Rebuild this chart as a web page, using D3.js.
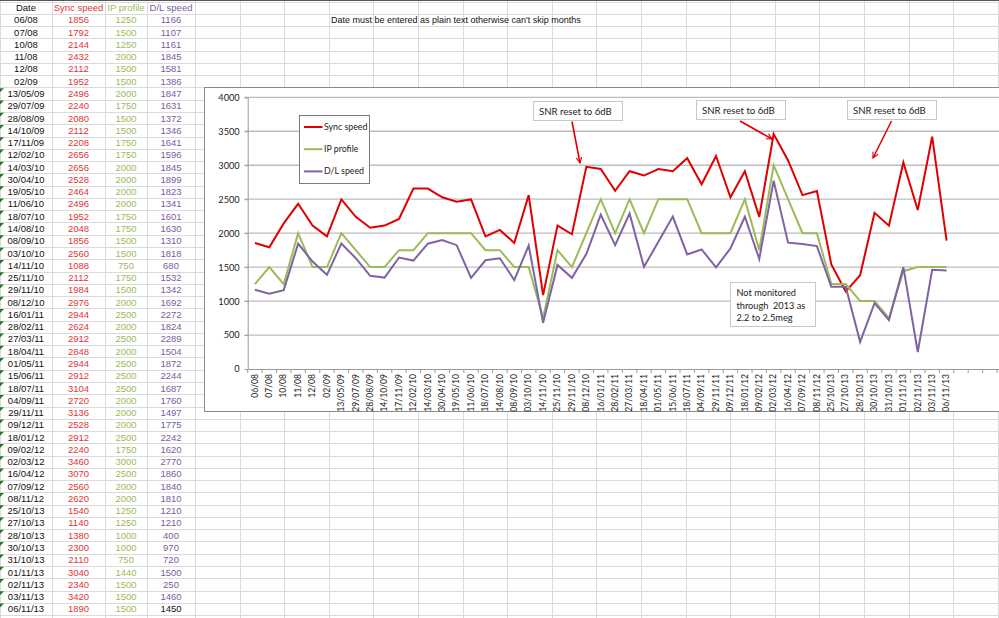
<!DOCTYPE html>
<html>
<head>
<meta charset="utf-8">
<script src="https://cdn.jsdelivr.net/npm/d3@7"></script>
<style>
body { margin: 0; background: #fff; overflow: hidden; }
svg { display: block; }
</style>
</head>
<body>
<svg id="sheet" width="999" height="618"></svg>
<script>
// data as typed in the sheet (dates kept as plain text)
var dates = ["06/08","07/08","10/08","11/08","12/08","02/09","13/05/09","29/07/09","28/08/09","14/10/09",
  "17/11/09","12/02/10","14/03/10","30/04/10","19/05/10","11/06/10","18/07/10","14/08/10","08/09/10","03/10/10",
  "14/11/10","25/11/10","29/11/10","08/12/10","16/01/11","28/02/11","27/03/11","18/04/11","01/05/11","15/06/11",
  "18/07/11","04/09/11","29/11/11","09/12/11","18/01/12","09/02/12","02/03/12","16/04/12","07/09/12","08/11/12",
  "25/10/13","27/10/13","28/10/13","30/10/13","31/10/13","01/11/13","02/11/13","03/11/13","06/11/13"];
var syncSpeed = [1856,1792,2144,2432,2112,1952,2496,2240,2080,2112,2208,2656,
  2656,2528,2464,2496,1952,2048,1856,2560,1088,2112,1984,2976,
  2944,2624,2912,2848,2944,2912,3104,2720,3136,2528,2912,2240,3460,
  3070,2560,2620,1540,1140,1380,2300,2110,3040,2340,3420,1890];
var ipProfile = [1250,1500,1250,2000,1500,1500,2000,1750,1500,1500,1750,1750,
  2000,2000,2000,2000,1750,1750,1500,1500,750,1750,1500,2000,
  2500,2000,2500,2000,2500,2500,2500,2000,2000,2000,2500,1750,3000,
  2500,2000,2000,1250,1250,1000,1000,750,1440,1500,1500,1500];
var dlSpeed = [1166,1107,1161,1845,1581,1386,1847,1631,1372,1346,1641,1596,
  1845,1899,1823,1341,1601,1630,1310,1818,680,1532,1342,1692,
  2272,1824,2289,1504,1872,2244,1687,1760,1497,1775,2242,1620,2770,
  1860,1840,1810,1210,1210,400,970,720,1500,250,1460,1450];
var headers = ["Date","Sync speed","IP profile","D/L speed"];
var seriesNames = ["Sync speed","IP profile","D/L speed"];
var yTicks = [0,500,1000,1500,2000,2500,3000,3500,4000];
var sheetNote = "Date must be entered as plain text otherwise can't skip months";
var snrNote = "SNR reset to 6dB";
var gapNote = ["Not monitored","through  2013 as","2.2 to 2.5meg"];

var lineColours = ["#e00000","#9bbb59","#7f63a3"];
var textColours = ["#111","#e03636","#9bbb59","#7b5c9f"];

var svg = d3.select("#sheet");

// ---- spreadsheet grid ----
var colEdges = [0,52,105,147,195];
for (var c = 1; c <= 18; c++) colEdges.push(195 + c*44.6);
var rowH = 12.27, rowTop = 1.6, nRows = 51;
var row = d3.scaleLinear().domain([0,1]).range([rowTop, rowTop+rowH]);

var grid = svg.append("g");
grid.selectAll("line.h").data(d3.range(nRows+1)).join("line")
  .attr("class","h")
  .attr("x1",0).attr("x2",999)
  .attr("y1",function(d){return Math.round(row(d))+0.5;})
  .attr("y2",function(d){return Math.round(row(d))+0.5;})
  .attr("stroke","#dadada");
grid.selectAll("line.v").data(colEdges).join("line")
  .attr("class","v")
  .attr("y1",0).attr("y2",618)
  .attr("x1",function(d){return Math.round(d)+0.5;})
  .attr("x2",function(d){return Math.round(d)+0.5;})
  .attr("stroke","#dadada");
svg.append("line").attr("x1",0).attr("x2",999).attr("y1",0.5).attr("y2",0.5).attr("stroke","#555");

var cellFont = "'Liberation Sans', Arial, sans-serif";
function colMid(j){ return (colEdges[j]+colEdges[j+1])/2; }

svg.append("g").selectAll("text").data(headers).join("text")
  .attr("x",function(d,j){return colMid(j);})
  .attr("y",row(0.5)+3.4)
  .attr("text-anchor","middle")
  .attr("font-family",cellFont).attr("font-size","9.5px")
  .attr("fill",function(d,j){return textColours[j];})
  .text(function(d){return d;});

var rows = dates.map(function(d,i){ return [d, syncSpeed[i], ipProfile[i], dlSpeed[i]]; });
var rowG = svg.append("g").selectAll("g").data(rows).join("g")
  .attr("transform",function(d,i){return "translate(0,"+row(i+1.5)+")";});
rowG.selectAll("text").data(function(d,i){return d.map(function(v,j){return {v:v,j:j,i:i};});}).join("text")
  .attr("x",function(d){return colMid(d.j);})
  .attr("y",3.4)
  .attr("text-anchor","middle")
  .attr("font-family",cellFont).attr("font-size","9.5px")
  .attr("fill",function(d){ return (d.i === rows.length-1 && d.j === 3) ? "#111" : textColours[d.j]; })
  .text(function(d){return d.v;});
// green "number stored as text" flags
rowG.filter(function(d,i){return i >= 6;}).append("path")
  .attr("d","M0,-5.5 L4,-5.5 L0,-1.5 Z")
  .attr("fill","#1f7a1f");

svg.append("text").attr("x",331).attr("y",row(1.5)+3.3)
  .attr("font-family",cellFont).attr("font-size","9px").attr("fill","#111")
  .text(sheetNote);

// ---- embedded chart ----
var chartFont = "Lato, 'Open Sans', sans-serif";
var chart = svg.append("g");
chart.append("rect").attr("x",204.5).attr("y",87.5).attr("width",830).attr("height",324)
  .attr("fill","#fff").attr("stroke","#8a8a8a");

var nCats = 56, x0 = 247.7, step = 14.41;
var x = d3.scaleBand().domain(d3.range(nCats)).range([x0, x0 + nCats*step]);
var y = d3.scaleLinear().domain([0,4000]).range([369,97.3]);

chart.append("g").selectAll("line").data(yTicks.filter(function(t){return t>0;})).join("line")
  .attr("x1",x0-3).attr("x2",1040)
  .attr("y1",function(d){return y(d);}).attr("y2",function(d){return y(d);})
  .attr("stroke","#bdbdbd").attr("stroke-width",1.3);

var yAxis = chart.append("g").attr("transform","translate("+x0+",0)")
  .call(d3.axisLeft(y).tickValues(yTicks).tickFormat(d3.format("d")).tickSize(3).tickPadding(5));
yAxis.select(".domain").attr("stroke","#9a9a9a");
yAxis.selectAll(".tick line").attr("stroke","#9a9a9a");
yAxis.selectAll("text").attr("font-family",chartFont).attr("font-size","9.2px").attr("fill","#222");

var xAxis = chart.append("g").attr("transform","translate(0,"+y(0)+")")
  .call(d3.axisBottom(x).tickSize(0).tickFormat(function(i){ return i < dates.length ? dates[i] : ""; }));
xAxis.select(".domain").attr("stroke","#9a9a9a");
xAxis.selectAll("text")
  .attr("font-family",chartFont).attr("font-size","8.6px").attr("fill","#222")
  .attr("transform","rotate(-90)")
  .attr("text-anchor","end")
  .attr("x",-5).attr("y",0).attr("dy","0.32em");
chart.append("g").selectAll("line").data(d3.range(nCats+1)).join("line")
  .attr("x1",function(k){return x0 + k*x.step();}).attr("x2",function(k){return x0 + k*x.step();})
  .attr("y1",y(0)).attr("y2",y(0)+4)
  .attr("stroke","#9a9a9a");

var series = [syncSpeed, ipProfile, dlSpeed];
var line = d3.line()
  .x(function(d,i){return x(i) + x.bandwidth()/2;})
  .y(function(d){return y(d);});
chart.append("g").selectAll("path").data(series).join("path")
  .attr("d",line)
  .attr("fill","none")
  .attr("stroke",function(d,i){return lineColours[i];})
  .attr("stroke-width",2)
  .attr("stroke-linejoin","miter");

// legend
var leg = chart.append("g").attr("transform","translate(299.5,115.5)");
leg.append("rect").attr("width",70).attr("height",68).attr("fill","#fff").attr("stroke","#7a7a7a");
var legItem = leg.selectAll("g").data(seriesNames).join("g")
  .attr("transform",function(d,i){return "translate(0,"+(11.5 + i*22.2)+")";});
legItem.append("line").attr("x1",4.5).attr("x2",23).attr("stroke",function(d,i){return lineColours[i];}).attr("stroke-width",2);
legItem.append("text").attr("x",24.5).attr("dy","0.35em")
  .attr("font-family",chartFont).attr("font-size","8.8px").attr("fill","#222")
  .text(function(d){return d;});

// annotations
var defs = svg.append("defs");
defs.append("marker").attr("id","arrow").attr("viewBox","0 0 10 10")
  .attr("refX",9).attr("refY",5).attr("markerWidth",7).attr("markerHeight",7)
  .attr("orient","auto").attr("markerUnits","userSpaceOnUse")
  .append("path").attr("d","M1,1 L9,5 L1,9").attr("fill","none").attr("stroke","#e00000").attr("stroke-width",1.6);

var snrBoxes = [[533,101],[696,100],[847,100]];
var arrows = [[572,121.5,580,163],[740,121,772,139],[891.5,121,873,158]];
var ann = chart.append("g");
ann.selectAll("rect").data(snrBoxes).join("rect")
  .attr("x",function(d){return d[0]+0.5;}).attr("y",function(d){return d[1]+0.5;})
  .attr("width",89).attr("height",19)
  .attr("fill","#fff").attr("stroke","#c8c8c8");
ann.selectAll("text").data(snrBoxes).join("text")
  .attr("x",function(d){return d[0]+6;}).attr("y",function(d){return d[1]+13.5;})
  .attr("font-family",chartFont).attr("font-size","9.6px").attr("fill","#222")
  .text(snrNote);
ann.selectAll("line").data(arrows).join("line")
  .attr("x1",function(d){return d[0];}).attr("y1",function(d){return d[1];})
  .attr("x2",function(d){return d[2];}).attr("y2",function(d){return d[3];})
  .attr("stroke","#e00000").attr("stroke-width",1.6)
  .attr("marker-end","url(#arrow)");

var gap = chart.append("g").attr("transform","translate(730.5,282.5)");
gap.append("rect").attr("width",85).attr("height",44).attr("fill","#fff").attr("stroke","#c8c8c8");
gap.selectAll("text").data(gapNote).join("text")
  .attr("x",6).attr("y",function(d,i){return 13.5 + i*12.5;})
  .attr("font-family",chartFont).attr("font-size","9.2px").attr("fill","#222")
  .attr("xml:space","preserve")
  .text(function(d){return d;});
</script>
</body>
</html>
